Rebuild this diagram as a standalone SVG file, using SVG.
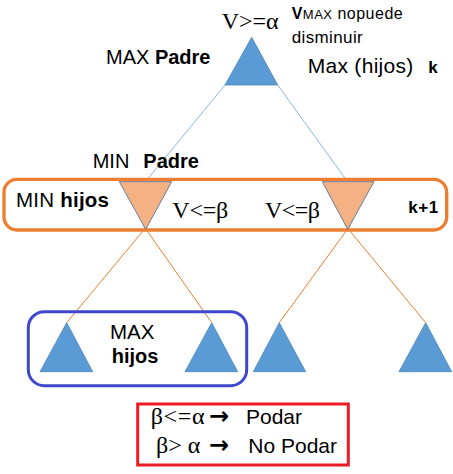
<svg xmlns="http://www.w3.org/2000/svg" width="453" height="474" viewBox="0 0 453 474">
<defs>
<style>
.sans{font-family:"Liberation Sans",Arial,sans-serif;fill:#000}
.serif{font-family:"Liberation Serif","Times New Roman",serif;fill:#000}
.b{font-weight:bold}
.maxtri{fill:#5B9BD5;stroke:#4A84BA;stroke-width:0.8}
.mintri{fill:#F4B183;stroke:#6A7D9B;stroke-width:1}
.blueline{stroke:#8AB6E0;stroke-width:1;fill:none}
.orangeline{stroke:#ED7D31;stroke-width:1;fill:none}
.arrow{font-family:"DejaVu Sans",sans-serif;font-weight:bold;fill:#000}
</style>
</defs>
<rect width="453" height="474" fill="#fff"/>

<g id="connectors">
<line class="blueline" x1="225" y1="85" x2="146" y2="181"/>
<line class="blueline" x1="277.7" y1="85" x2="347" y2="181"/>
<line class="orangeline" x1="148" y1="225" x2="66.7" y2="322.7"/>
<line class="orangeline" x1="143" y1="225" x2="211.7" y2="322.7"/>
<line class="orangeline" x1="350.5" y1="225" x2="279.3" y2="322.7"/>
<line class="orangeline" x1="345" y1="225" x2="425.7" y2="322.7"/>
</g>

<g id="min-group">
<rect x="4" y="179.3" width="442.7" height="50.7" rx="13" ry="13" fill="none" stroke="#ED7D31" stroke-width="3.3"/>
<text class="sans" x="16" y="206.7" font-size="20.5" textLength="93">MIN <tspan class="b">hijos</tspan></text>
<text class="sans b" x="408.3" y="212.7" font-size="17" textLength="30">k+1</text>
</g>

<g id="max-group">
<rect x="28.3" y="311.7" width="218.4" height="74" rx="16" ry="16" fill="none" stroke="#3F48CC" stroke-width="3"/>
<text class="sans" x="110" y="339.3" font-size="20.5">MAX</text>
<text class="sans b" x="111.7" y="363.3" font-size="20">hijos</text>
</g>

<g id="root">
<polygon class="maxtri" points="251.7,37.3 277.7,85 225,85"/>
<text class="serif" x="221.7" y="29.3" font-size="24" textLength="57">V&gt;=α</text>
<text class="sans" x="106" y="64.3" font-size="20"><tspan>MAX </tspan><tspan class="b">Padre</tspan></text>
<text class="sans" x="291.7" y="19.3" font-size="16" textLength="111"><tspan class="b" font-size="16">V</tspan><tspan font-size="13">MAX</tspan><tspan> nopuede</tspan></text>
<text class="sans" x="291.7" y="43.3" font-size="17" textLength="71">disminuir</text>
<text class="sans" x="307.7" y="72.7" font-size="21" textLength="105.6">Max (hijos)</text>
<text class="sans b" x="428.3" y="72.7" font-size="17">k</text>
</g>

<g id="min-left">
<polygon class="mintri" points="119.3,181.7 171.7,181.7 145.7,229.3"/>
<text class="sans" x="92.7" y="168.3" font-size="20">MIN</text>
<text class="sans b" x="143.3" y="168.3" font-size="20">Padre</text>
<text class="serif" x="172.3" y="218.3" font-size="24" textLength="56">V&lt;=β</text>
</g>

<g id="min-right">
<polygon class="mintri" points="322.3,181.7 374,181.7 347.7,229.3"/>
<text class="serif" x="265" y="218.3" font-size="24" textLength="55">V&lt;=β</text>
</g>

<g id="leaf1"><polygon class="maxtri" points="66.7,322.7 92.7,371.7 40,371.7"/></g>
<g id="leaf2"><polygon class="maxtri" points="211.7,322.7 237.7,371.7 185,371.7"/></g>
<g id="leaf3"><polygon class="maxtri" points="279.3,322.7 305.7,371.7 253.3,371.7"/></g>
<g id="leaf4"><polygon class="maxtri" points="425.7,322.7 451.7,371.7 399,371.7"/></g>

<g id="legend">
<rect x="137.7" y="404" width="210.6" height="61" fill="none" stroke="#ED1C24" stroke-width="3"/>
<text class="serif" x="150.7" y="424" font-size="24" textLength="54">β&lt;=α</text>
<text class="arrow" x="209" y="424" font-size="24">→</text>
<text class="sans" x="246" y="424" font-size="21">Podar</text>
<text class="serif" x="156" y="453.3" font-size="24">β&gt; α</text>
<text class="arrow" x="209" y="453.3" font-size="24">→</text>
<text class="sans" x="248.3" y="453.3" font-size="21">No Podar</text>
</g>
</svg>
